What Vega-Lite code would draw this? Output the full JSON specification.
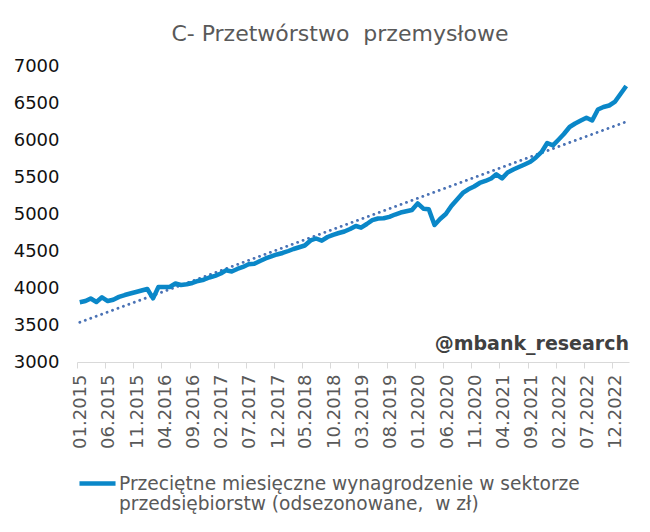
{
  "$schema": "https://vega.github.io/schema/vega-lite/v6.json",
  "autosize": {"type": "none"},
  "padding": {"left": 77, "top": 66, "right": 21, "bottom": 170},
  "width": 552,
  "height": 296,
  "background": "white",
  "config": {
    "font": "DejaVu Sans",
    "view": {"stroke": null},
    "axisX": {
      "labelAngle": 270,
      "labelFontSize": 18,
      "labelColor": "#595959",
      "labelFont": "DejaVu Sans",
      "labelPadding": 6,
      "labelOffset": 4,
      "labelOverlap": false,
      "labelFlush": false,
      "tickOffset": -2.8,
      "tickSize": 6,
      "tickColor": "#d9d9d9",
      "domainColor": "#d9d9d9",
      "domainWidth": 1,
      "grid": false,
      "title": null
    },
    "axisY": {
      "labelFontSize": 18,
      "labelColor": "#111111",
      "labelFont": "DejaVu Sans",
      "labelPadding": 18,
      "labelOverlap": false,
      "ticks": false,
      "domain": false,
      "grid": false,
      "title": null
    }
  },
  "title": {
    "text": "C- Przetwórstwo\u00a0 przemysłowe",
    "font": "DejaVu Sans",
    "fontSize": 22,
    "fontWeight": "normal",
    "color": "#595959",
    "anchor": "middle",
    "dx": -13,
    "offset": 11
  },
  "datasets": {
    "wages": [
      {"d": "2015-01-01", "v": 3807}, {"d": "2015-02-01", "v": 3824}, {"d": "2015-03-01", "v": 3858},
      {"d": "2015-04-01", "v": 3811}, {"d": "2015-05-01", "v": 3874}, {"d": "2015-06-01", "v": 3824},
      {"d": "2015-07-01", "v": 3842}, {"d": "2015-08-01", "v": 3880}, {"d": "2015-09-01", "v": 3905},
      {"d": "2015-10-01", "v": 3926}, {"d": "2015-11-01", "v": 3946}, {"d": "2015-12-01", "v": 3966},
      {"d": "2016-01-01", "v": 3986}, {"d": "2016-02-01", "v": 3860}, {"d": "2016-03-01", "v": 4014},
      {"d": "2016-04-01", "v": 4014}, {"d": "2016-05-01", "v": 4014}, {"d": "2016-06-01", "v": 4061},
      {"d": "2016-07-01", "v": 4041}, {"d": "2016-08-01", "v": 4050}, {"d": "2016-09-01", "v": 4068},
      {"d": "2016-10-01", "v": 4095}, {"d": "2016-11-01", "v": 4112}, {"d": "2016-12-01", "v": 4142},
      {"d": "2017-01-01", "v": 4165}, {"d": "2017-02-01", "v": 4196}, {"d": "2017-03-01", "v": 4239},
      {"d": "2017-04-01", "v": 4223}, {"d": "2017-05-01", "v": 4257}, {"d": "2017-06-01", "v": 4284},
      {"d": "2017-07-01", "v": 4320}, {"d": "2017-08-01", "v": 4327}, {"d": "2017-09-01", "v": 4365},
      {"d": "2017-10-01", "v": 4399}, {"d": "2017-11-01", "v": 4426}, {"d": "2017-12-01", "v": 4453},
      {"d": "2018-01-01", "v": 4473}, {"d": "2018-02-01", "v": 4500}, {"d": "2018-03-01", "v": 4527},
      {"d": "2018-04-01", "v": 4551}, {"d": "2018-05-01", "v": 4574}, {"d": "2018-06-01", "v": 4642},
      {"d": "2018-07-01", "v": 4669}, {"d": "2018-08-01", "v": 4640}, {"d": "2018-09-01", "v": 4689},
      {"d": "2018-10-01", "v": 4719}, {"d": "2018-11-01", "v": 4743}, {"d": "2018-12-01", "v": 4764},
      {"d": "2019-01-01", "v": 4797}, {"d": "2019-02-01", "v": 4838}, {"d": "2019-03-01", "v": 4815},
      {"d": "2019-04-01", "v": 4865}, {"d": "2019-05-01", "v": 4916}, {"d": "2019-06-01", "v": 4939},
      {"d": "2019-07-01", "v": 4942}, {"d": "2019-08-01", "v": 4962}, {"d": "2019-09-01", "v": 4993},
      {"d": "2019-10-01", "v": 5020}, {"d": "2019-11-01", "v": 5038}, {"d": "2019-12-01", "v": 5054},
      {"d": "2020-01-01", "v": 5144}, {"d": "2020-02-01", "v": 5072}, {"d": "2020-03-01", "v": 5063},
      {"d": "2020-04-01", "v": 4851}, {"d": "2020-05-01", "v": 4932}, {"d": "2020-06-01", "v": 5000},
      {"d": "2020-07-01", "v": 5108}, {"d": "2020-08-01", "v": 5196}, {"d": "2020-09-01", "v": 5284},
      {"d": "2020-10-01", "v": 5334}, {"d": "2020-11-01", "v": 5372}, {"d": "2020-12-01", "v": 5419},
      {"d": "2021-01-01", "v": 5446}, {"d": "2021-02-01", "v": 5480}, {"d": "2021-03-01", "v": 5536},
      {"d": "2021-04-01", "v": 5482}, {"d": "2021-05-01", "v": 5561}, {"d": "2021-06-01", "v": 5601},
      {"d": "2021-07-01", "v": 5635}, {"d": "2021-08-01", "v": 5669}, {"d": "2021-09-01", "v": 5705},
      {"d": "2021-10-01", "v": 5764}, {"d": "2021-11-01", "v": 5838}, {"d": "2021-12-01", "v": 5959},
      {"d": "2022-01-01", "v": 5928}, {"d": "2022-02-01", "v": 6007}, {"d": "2022-03-01", "v": 6081},
      {"d": "2022-04-01", "v": 6176}, {"d": "2022-05-01", "v": 6223}, {"d": "2022-06-01", "v": 6264},
      {"d": "2022-07-01", "v": 6301}, {"d": "2022-08-01", "v": 6264}, {"d": "2022-09-01", "v": 6412},
      {"d": "2022-10-01", "v": 6446}, {"d": "2022-11-01", "v": 6466}, {"d": "2022-12-01", "v": 6514},
      {"d": "2023-01-01", "v": 6622}, {"d": "2023-02-01", "v": 6730}
    ],
    "trend": [
      {"d": "2015-01-01", "v": 3536},
      {"d": "2023-02-01", "v": 6247}
    ]
  },
  "layer": [
    {
      "data": {"name": "trend"},
      "mark": {"type": "line", "color": "#4a72b5", "strokeWidth": 2.8, "strokeDash": [0.1, 5.7], "strokeCap": "round"},
      "encoding": {
        "x": {
          "field": "d",
          "type": "temporal",
          "title": null,
          "scale": {
            "type": "utc",
            "domain": [
              {"year": 2014, "month": 12, "date": 17, "utc": true},
              {"year": 2023, "month": 2, "date": 16, "utc": true}
            ]
          },
          "axis": {
            "values": [
              {"year": 2015, "month": 1, "date": 1, "utc": true},
              {"year": 2015, "month": 6, "date": 1, "utc": true},
              {"year": 2015, "month": 11, "date": 1, "utc": true},
              {"year": 2016, "month": 4, "date": 1, "utc": true},
              {"year": 2016, "month": 9, "date": 1, "utc": true},
              {"year": 2017, "month": 2, "date": 1, "utc": true},
              {"year": 2017, "month": 7, "date": 1, "utc": true},
              {"year": 2017, "month": 12, "date": 1, "utc": true},
              {"year": 2018, "month": 5, "date": 1, "utc": true},
              {"year": 2018, "month": 10, "date": 1, "utc": true},
              {"year": 2019, "month": 3, "date": 1, "utc": true},
              {"year": 2019, "month": 8, "date": 1, "utc": true},
              {"year": 2020, "month": 1, "date": 1, "utc": true},
              {"year": 2020, "month": 6, "date": 1, "utc": true},
              {"year": 2020, "month": 11, "date": 1, "utc": true},
              {"year": 2021, "month": 4, "date": 1, "utc": true},
              {"year": 2021, "month": 9, "date": 1, "utc": true},
              {"year": 2022, "month": 2, "date": 1, "utc": true},
              {"year": 2022, "month": 7, "date": 1, "utc": true},
              {"year": 2022, "month": 12, "date": 1, "utc": true}
            ],
            "labelExpr": "utcFormat(datum.value, '%m.%Y')",
            "labelOverlap": false,
            "labelFlush": false
          }
        },
        "y": {
          "field": "v",
          "type": "quantitative",
          "title": null,
          "scale": {"domain": [3000, 7000], "nice": false, "zero": false},
          "axis": {
            "values": [3000, 3500, 4000, 4500, 5000, 5500, 6000, 6500, 7000],
            "format": "d",
            "labelOverlap": false
          }
        }
      }
    },
    {
      "data": {"name": "wages"},
      "mark": {"type": "line", "strokeWidth": 4.5, "strokeJoin": "round"},
      "encoding": {
        "x": {
          "field": "d",
          "type": "temporal",
          "axis": {
            "values": [
              {"year": 2015, "month": 1, "date": 1, "utc": true},
              {"year": 2015, "month": 6, "date": 1, "utc": true},
              {"year": 2015, "month": 11, "date": 1, "utc": true},
              {"year": 2016, "month": 4, "date": 1, "utc": true},
              {"year": 2016, "month": 9, "date": 1, "utc": true},
              {"year": 2017, "month": 2, "date": 1, "utc": true},
              {"year": 2017, "month": 7, "date": 1, "utc": true},
              {"year": 2017, "month": 12, "date": 1, "utc": true},
              {"year": 2018, "month": 5, "date": 1, "utc": true},
              {"year": 2018, "month": 10, "date": 1, "utc": true},
              {"year": 2019, "month": 3, "date": 1, "utc": true},
              {"year": 2019, "month": 8, "date": 1, "utc": true},
              {"year": 2020, "month": 1, "date": 1, "utc": true},
              {"year": 2020, "month": 6, "date": 1, "utc": true},
              {"year": 2020, "month": 11, "date": 1, "utc": true},
              {"year": 2021, "month": 4, "date": 1, "utc": true},
              {"year": 2021, "month": 9, "date": 1, "utc": true},
              {"year": 2022, "month": 2, "date": 1, "utc": true},
              {"year": 2022, "month": 7, "date": 1, "utc": true},
              {"year": 2022, "month": 12, "date": 1, "utc": true}
            ],
            "labelExpr": "utcFormat(datum.value, '%m.%Y')",
            "labelOverlap": false,
            "labelFlush": false
          }
        },
        "y": {
          "field": "v",
          "type": "quantitative",
          "axis": {
            "values": [3000, 3500, 4000, 4500, 5000, 5500, 6000, 6500, 7000],
            "format": "d",
            "labelOverlap": false
          }
        },
        "color": {
          "datum": "Przeciętne miesięczne wynagrodzenie w sektorze przedsiębiorstw (odsezonowane, w zł)",
          "scale": {"range": ["#0a87c8"]},
          "legend": {
            "title": null,
            "orient": "none",
            "legendX": 0,
            "legendY": 397,
            "padding": 0,
            "symbolType": "stroke",
            "symbolSize": 1300,
            "symbolStrokeWidth": 4.5,
            "labelFontSize": 18.6,
            "labelColor": "#595959",
            "labelFont": "DejaVu Sans",
            "labelLimit": 700,
            "labelOffset": 1,
            "labelExpr": "['Przeciętne miesięczne wynagrodzenie w sektorze', 'przedsiębiorstw (odsezonowane,\u00a0 w zł)']"
          }
        }
      }
    },
    {
      "data": {"values": [{"label": "@mbank_research"}]},
      "mark": {"type": "text", "align": "right", "baseline": "middle", "font": "DejaVu Sans", "fontWeight": "bold", "fontSize": 19, "fill": "#404040"},
      "encoding": {
        "text": {"field": "label", "type": "nominal"},
        "x": {
          "datum": {"year": 2023, "month": 2, "date": 16, "utc": true},
          "type": "temporal",
          "axis": {
            "values": [
              {"year": 2015, "month": 1, "date": 1, "utc": true},
              {"year": 2015, "month": 6, "date": 1, "utc": true},
              {"year": 2015, "month": 11, "date": 1, "utc": true},
              {"year": 2016, "month": 4, "date": 1, "utc": true},
              {"year": 2016, "month": 9, "date": 1, "utc": true},
              {"year": 2017, "month": 2, "date": 1, "utc": true},
              {"year": 2017, "month": 7, "date": 1, "utc": true},
              {"year": 2017, "month": 12, "date": 1, "utc": true},
              {"year": 2018, "month": 5, "date": 1, "utc": true},
              {"year": 2018, "month": 10, "date": 1, "utc": true},
              {"year": 2019, "month": 3, "date": 1, "utc": true},
              {"year": 2019, "month": 8, "date": 1, "utc": true},
              {"year": 2020, "month": 1, "date": 1, "utc": true},
              {"year": 2020, "month": 6, "date": 1, "utc": true},
              {"year": 2020, "month": 11, "date": 1, "utc": true},
              {"year": 2021, "month": 4, "date": 1, "utc": true},
              {"year": 2021, "month": 9, "date": 1, "utc": true},
              {"year": 2022, "month": 2, "date": 1, "utc": true},
              {"year": 2022, "month": 7, "date": 1, "utc": true},
              {"year": 2022, "month": 12, "date": 1, "utc": true}
            ],
            "labelExpr": "utcFormat(datum.value, '%m.%Y')",
            "labelOverlap": false,
            "labelFlush": false
          }
        },
        "y": {
          "datum": 3240,
          "type": "quantitative",
          "axis": {
            "values": [3000, 3500, 4000, 4500, 5000, 5500, 6000, 6500, 7000],
            "format": "d",
            "labelOverlap": false
          }
        }
      }
    }
  ]
}
